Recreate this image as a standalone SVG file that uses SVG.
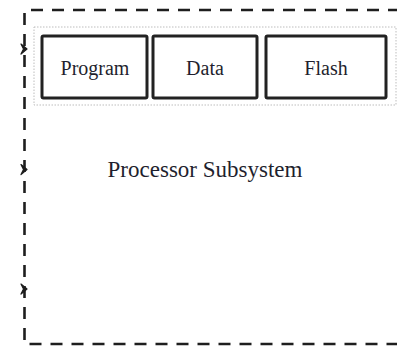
<svg xmlns="http://www.w3.org/2000/svg" width="397" height="346" viewBox="0 0 397 346">
  <style>
    .frame { fill: none; stroke: #1e1e1e; stroke-width: 2.6; stroke-dasharray: 12 9; }
    .mem { fill: #ffffff; stroke: #222222; stroke-width: 3; }
    .label { font-family: "Liberation Serif", "Times New Roman", serif; fill: #1f1f2e; text-anchor: middle; }
    .head { fill: #1e1e1e; stroke: #1e1e1e; stroke-width: 1.2; stroke-linejoin: round; }
  </style>
  <rect width="397" height="346" fill="#ffffff"/>

  <!-- subsystem boundary -->
  <g id="subsystem">
    <path class="frame" d="M31 10 H397"/>
    <path class="frame" d="M24.5 13 V344 H397"/>
    <text class="label" x="205" y="177" font-size="23">Processor Subsystem</text>
  </g>

  <!-- memory bank -->
  <g id="memory">
    <rect x="34" y="27" width="362" height="78" fill="none" stroke="#bdbdbd" stroke-width="1" stroke-dasharray="1.5 1.5"/>
  </g>
  <g id="program">
    <rect class="mem" x="42" y="36" width="105" height="62" rx="1.5"/>
    <text class="label" x="95" y="75" font-size="20">Program</text>
  </g>
  <g id="data">
    <rect class="mem" x="153" y="36" width="104" height="62" rx="1.5"/>
    <text class="label" x="205" y="75" font-size="20">Data</text>
  </g>
  <g id="flash">
    <rect class="mem" x="266" y="36" width="120" height="62" rx="1.5"/>
    <text class="label" x="326" y="75" font-size="20">Flash</text>
  </g>

  <!-- incoming connector heads on the boundary -->
  <g id="connectors">
    <path class="head" d="M21 44 L27 49 L21 54 L23.5 49 Z"/>
    <path class="head" d="M21 164.5 L27 169.5 L21 174.5 L23.5 169.5 Z"/>
    <path class="head" d="M21 284 L27 289 L21 294 L23.5 289 Z"/>
  </g>
</svg>
